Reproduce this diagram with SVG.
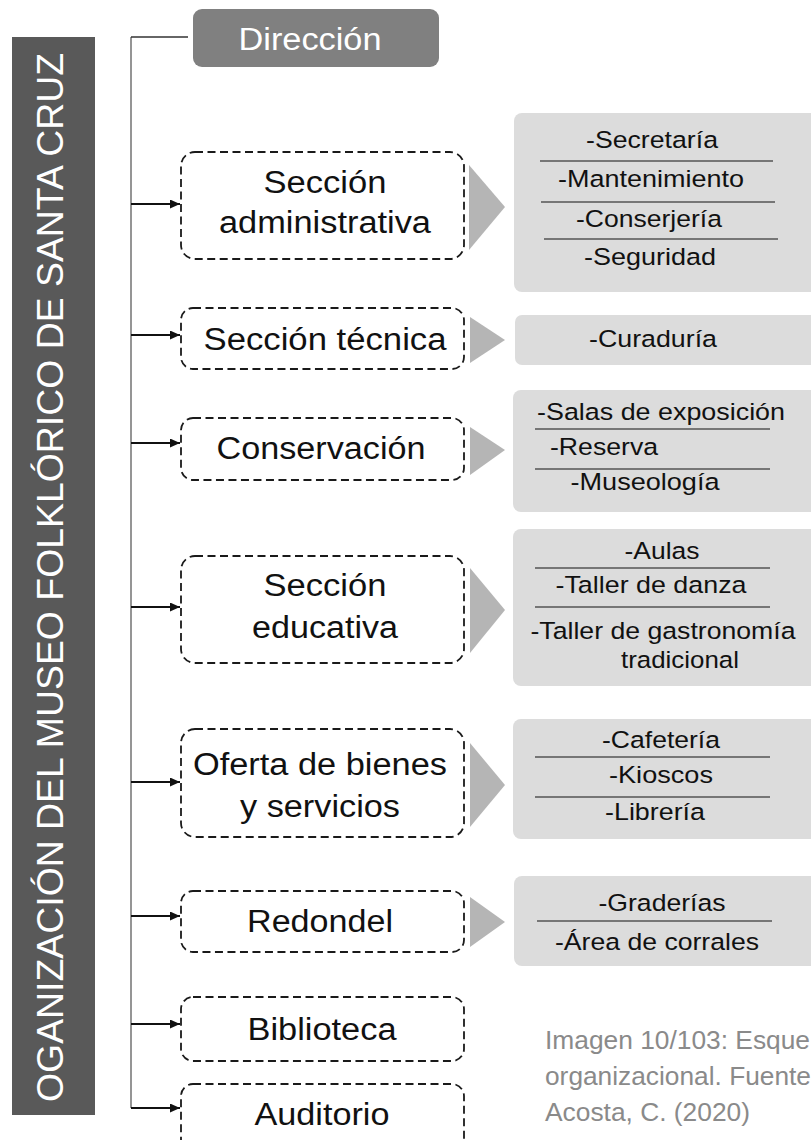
<svg xmlns="http://www.w3.org/2000/svg" width="811" height="1140" viewBox="0 0 811 1140">
<style>
text{font-family:"Liberation Sans",Arial,Helvetica,sans-serif}
.lbl{font-size:31px;fill:#111;text-anchor:middle}
.item{font-size:24.5px;fill:#111;text-anchor:middle}
.box{fill:#fff;stroke:#1a1a1a;stroke-width:1.8;stroke-dasharray:8 4.5}
.tri{fill:#b5b5b5}
.list{fill:#dcdcdc}
.sep{stroke:#555;stroke-width:1.5}
.arr{stroke:#111;stroke-width:1.8;fill:none}
.cap{font-size:25px;fill:#8a8a8a}
</style>
<defs>
<marker id="ah" markerUnits="userSpaceOnUse" markerWidth="11" markerHeight="10" refX="10" refY="4.5" orient="auto">
<path d="M0,0 L10,4.5 L0,9 z" fill="#111"/>
</marker>
</defs>
<rect width="811" height="1140" fill="#fff"/>

<g id="title">
<rect x="12" y="37" width="83" height="1078" fill="#595959"/>
<text transform="translate(63,577.5) rotate(-90)" text-anchor="middle" font-size="37" fill="#fff" textLength="1049" lengthAdjust="spacingAndGlyphs">OGANIZACIÓN DEL MUSEO FOLKLÓRICO DE SANTA CRUZ</text>
</g>

<g id="connectors">
<line x1="131" y1="37" x2="131" y2="1108" stroke="#8a8a8a" stroke-width="1.8"/>
<line x1="131" y1="37" x2="188" y2="37" stroke="#333" stroke-width="1.5"/>
<line class="arr" x1="131" y1="204" x2="180" y2="204" marker-end="url(#ah)"/>
<line class="arr" x1="131" y1="335" x2="180" y2="335" marker-end="url(#ah)"/>
<line class="arr" x1="131" y1="443" x2="180" y2="443" marker-end="url(#ah)"/>
<line class="arr" x1="131" y1="607" x2="180" y2="607" marker-end="url(#ah)"/>
<line class="arr" x1="131" y1="782" x2="180" y2="782" marker-end="url(#ah)"/>
<line class="arr" x1="131" y1="916" x2="180" y2="916" marker-end="url(#ah)"/>
<line class="arr" x1="131" y1="1024" x2="180" y2="1024" marker-end="url(#ah)"/>
<line class="arr" x1="131" y1="1108" x2="180" y2="1108" marker-end="url(#ah)"/>
<polygon class="tri" points="469,165 469,250 505,207"/>
<polygon class="tri" points="470,317 470,363 505,340"/>
<polygon class="tri" points="470,427 470,475 505,450"/>
<polygon class="tri" points="470,568 470,653 505,610"/>
<polygon class="tri" points="470,743 470,827 505,785"/>
<polygon class="tri" points="470,897 470,947 505,922"/>
</g>

<g id="direccion">
<rect x="193" y="9" width="246" height="58" rx="9" fill="#808080"/>
<text class="lbl" x="310" y="50" fill="#fff" style="fill:#fff" textLength="143" lengthAdjust="spacingAndGlyphs">Dirección</text>
</g>

<g id="seccion-administrativa">
<rect class="box" x="181" y="152" width="283" height="107" rx="14"/>
<text class="lbl" x="325" y="193" textLength="123" lengthAdjust="spacingAndGlyphs">Sección</text>
<text class="lbl" x="325" y="233" textLength="212" lengthAdjust="spacingAndGlyphs">administrativa</text>
</g>
<g id="lista-administrativa">
<rect class="list" x="514" y="113" width="310" height="179" rx="8"/>
<line class="sep" x1="540" y1="161" x2="773" y2="161"/>
<line class="sep" x1="541" y1="202" x2="775" y2="202"/>
<line class="sep" x1="544" y1="239" x2="778" y2="239"/>
<text class="item" x="652" y="148" textLength="132" lengthAdjust="spacingAndGlyphs">-Secretaría</text>
<text class="item" x="651" y="187" textLength="186" lengthAdjust="spacingAndGlyphs">-Mantenimiento</text>
<text class="item" x="649" y="227" textLength="146" lengthAdjust="spacingAndGlyphs">-Conserjería</text>
<text class="item" x="650" y="265" textLength="132" lengthAdjust="spacingAndGlyphs">-Seguridad</text>
</g>

<g id="seccion-tecnica">
<rect class="box" x="181" y="308" width="283" height="61" rx="12"/>
<text class="lbl" x="325" y="350" textLength="243" lengthAdjust="spacingAndGlyphs">Sección técnica</text>
</g>
<g id="lista-tecnica">
<rect class="list" x="515" y="315" width="310" height="50" rx="7"/>
<text class="item" x="653" y="347" textLength="128" lengthAdjust="spacingAndGlyphs">-Curaduría</text>
</g>

<g id="conservacion">
<rect class="box" x="181" y="418" width="283" height="62" rx="12"/>
<text class="lbl" x="321" y="459" textLength="209" lengthAdjust="spacingAndGlyphs">Conservación</text>
</g>
<g id="lista-conservacion">
<rect class="list" x="513" y="390" width="310" height="122" rx="8"/>
<line class="sep" x1="535" y1="429" x2="770" y2="429"/>
<line class="sep" x1="535" y1="469" x2="770" y2="469"/>
<text class="item" x="661" y="420" textLength="248" lengthAdjust="spacingAndGlyphs">-Salas de exposición</text>
<text class="item" x="604" y="455" textLength="108" lengthAdjust="spacingAndGlyphs">-Reserva</text>
<text class="item" x="645" y="490" textLength="149" lengthAdjust="spacingAndGlyphs">-Museología</text>
</g>

<g id="seccion-educativa">
<rect class="box" x="181" y="556" width="283" height="107" rx="14"/>
<text class="lbl" x="325" y="596" textLength="123" lengthAdjust="spacingAndGlyphs">Sección</text>
<text class="lbl" x="325" y="638" textLength="146" lengthAdjust="spacingAndGlyphs">educativa</text>
</g>
<g id="lista-educativa">
<rect class="list" x="513" y="529" width="310" height="157" rx="8"/>
<line class="sep" x1="535" y1="568" x2="770" y2="568"/>
<line class="sep" x1="535" y1="607" x2="770" y2="607"/>
<text class="item" x="662" y="559" textLength="75" lengthAdjust="spacingAndGlyphs">-Aulas</text>
<text class="item" x="651" y="593" textLength="191" lengthAdjust="spacingAndGlyphs">-Taller de danza</text>
<text class="item" x="663" y="639" textLength="265" lengthAdjust="spacingAndGlyphs">-Taller de gastronomía</text>
<text class="item" x="680" y="668" textLength="118" lengthAdjust="spacingAndGlyphs">tradicional</text>
</g>

<g id="oferta">
<rect class="box" x="181" y="729" width="283" height="108" rx="14"/>
<text class="lbl" x="320" y="775" textLength="254" lengthAdjust="spacingAndGlyphs">Oferta de bienes</text>
<text class="lbl" x="320" y="817" textLength="160" lengthAdjust="spacingAndGlyphs">y servicios</text>
</g>
<g id="lista-oferta">
<rect class="list" x="513" y="719" width="310" height="120" rx="8"/>
<line class="sep" x1="535" y1="757" x2="770" y2="757"/>
<line class="sep" x1="535" y1="797" x2="770" y2="797"/>
<text class="item" x="661" y="748" textLength="118" lengthAdjust="spacingAndGlyphs">-Cafetería</text>
<text class="item" x="661" y="783" textLength="104" lengthAdjust="spacingAndGlyphs">-Kioscos</text>
<text class="item" x="655" y="820" textLength="100" lengthAdjust="spacingAndGlyphs">-Librería</text>
</g>

<g id="redondel">
<rect class="box" x="181" y="891" width="283" height="61" rx="12"/>
<text class="lbl" x="320" y="932" textLength="146" lengthAdjust="spacingAndGlyphs">Redondel</text>
</g>
<g id="lista-redondel">
<rect class="list" x="514" y="876" width="310" height="90" rx="8"/>
<line class="sep" x1="537" y1="921" x2="772" y2="921"/>
<text class="item" x="662" y="911" textLength="127" lengthAdjust="spacingAndGlyphs">-Graderías</text>
<text class="item" x="657" y="950" textLength="204" lengthAdjust="spacingAndGlyphs">-Área de corrales</text>
</g>

<g id="biblioteca">
<rect class="box" x="181" y="997" width="283" height="64" rx="12"/>
<text class="lbl" x="322" y="1040" textLength="149" lengthAdjust="spacingAndGlyphs">Biblioteca</text>
</g>

<g id="auditorio">
<rect class="box" x="181" y="1084" width="283" height="80" rx="12"/>
<text class="lbl" x="322" y="1125" textLength="135" lengthAdjust="spacingAndGlyphs">Auditorio</text>
</g>

<g id="caption">
<text class="cap" x="545" y="1049" textLength="265" lengthAdjust="spacingAndGlyphs">Imagen 10/103: Esque</text>
<text class="cap" x="545" y="1085" textLength="266" lengthAdjust="spacingAndGlyphs">organizacional. Fuente</text>
<text class="cap" x="545" y="1121" textLength="205" lengthAdjust="spacingAndGlyphs">Acosta, C. (2020)</text>
</g>
</svg>
